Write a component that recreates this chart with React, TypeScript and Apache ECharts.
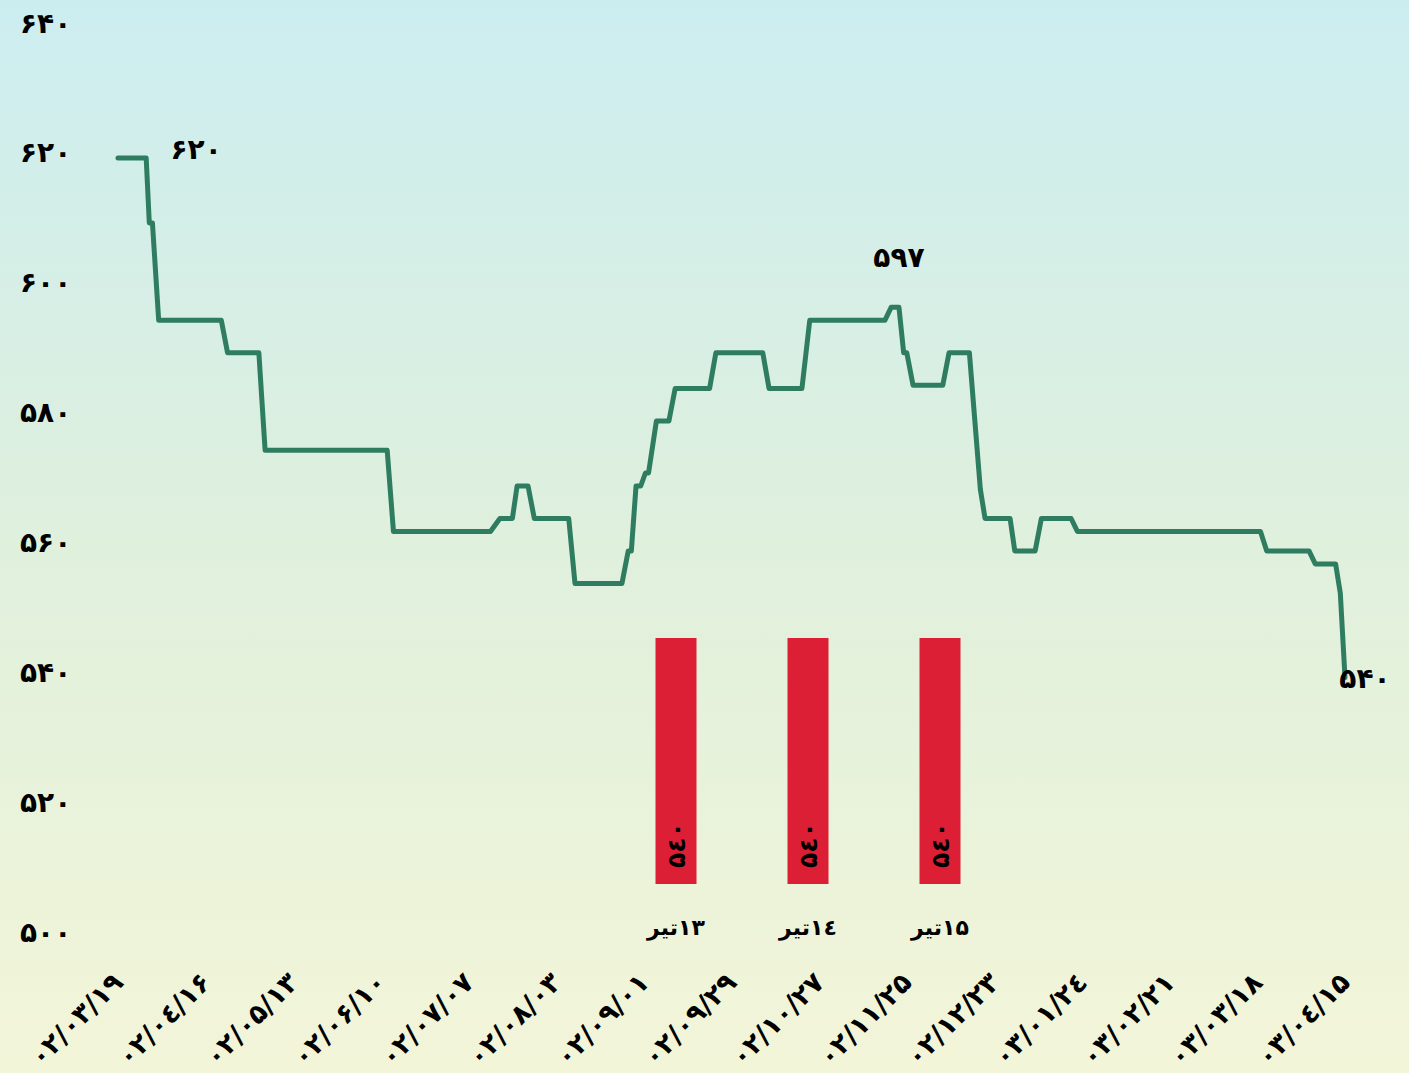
import React, { useEffect, useRef } from "react";
import * as echarts from "echarts";

// day offsets (from first tick) and prices of the line
const days = [0, 9, 10, 11, 13, 33, 35, 45, 47, 86, 88, 119, 122, 126, 127.5, 131, 133, 144, 146, 161, 163, 164, 165.5, 167, 168.5, 169.5, 172, 176, 178, 189, 191, 206, 208, 218.5, 221, 245, 247, 249.5, 251, 252, 254, 263.5, 265.5, 272, 274, 275.5, 277, 285, 286.5, 293, 295, 304.5, 306.5, 365, 367, 380.5, 382.5, 389, 390.5, 392];
const prices = [620, 620, 610, 610, 595, 595, 590, 590, 575, 575, 562.5, 562.5, 564.5, 564.5, 569.5, 569.5, 564.5, 564.5, 554.5, 554.5, 559.5, 559.5, 569.5, 569.5, 571.5, 571.5, 579.5, 579.5, 584.5, 584.5, 590, 590, 584.5, 584.5, 595, 595, 597, 597, 590, 590, 585, 585, 590, 590, 578, 569, 564.5, 564.5, 559.5, 559.5, 564.5, 564.5, 562.5, 562.5, 559.5, 559.5, 557.5, 557.5, 553, 540];

const xTickLabels = ["۰۲/۰۳/۱۹", "۰۲/۰٤/۱۶", "۰۲/۰۵/۱۳", "۰۲/۰۶/۱۰", "۰۲/۰۷/۰۷", "۰۲/۰۸/۰۳", "۰۲/۰۹/۰۱", "۰۲/۰۹/۲۹", "۰۲/۱۰/۲۷", "۰۲/۱۱/۲۵", "۰۲/۱۲/۲۳", "۰۳/۰۱/۲٤", "۰۳/۰۲/۲۱", "۰۳/۰۳/۱۸", "۰۳/۰٤/۱۵"];
const yTickLabels = ["۵۰۰", "۵۲۰", "۵۴۰", "۵۶۰", "۵۸۰", "۶۰۰", "۶۲۰", "۶۴۰"];

const barCategories = ["تیر\u200E۱۳", "تیر\u200E۱٤", "تیر\u200E۱۵"];
const barValues = [540, 540, 540];

// annotated points: [day, price, text]
const notes: [number, number, string][] = [
  [9, 620, "۶۲۰"],
  [249.5, 597, "۵۹۷"],
  [392, 540, "۵۴۰"],
];
const noteOffsets: [number, number][] = [[50, -8], [0, -50], [20, 1]];

const FONT = "DejaVu Sans";

function toFa(n: number, alt = false) {
  const d = alt ? "۰۱۲۳٤۵۶۷۸۹" : "۰۱۲۳۴۵۶۷۸۹";
  return String(n).replace(/\d/g, (c) => d[Number(c)]);
}

export default function App() {
  const ref = useRef<HTMLDivElement>(null);
  useEffect(() => {
    if (!ref.current) return;
    const chart = echarts.init(ref.current, undefined, { renderer: "svg" });
    const lineData = days.map((d, i) => [d, prices[i]]);
    chart.setOption({
      animation: false,
      backgroundColor: new echarts.graphic.LinearGradient(0, 0, 0, 1, [
        { offset: 0, color: "#ccedf0" },
        { offset: 0.5, color: "#dff0dd" },
        { offset: 1, color: "#f3f5d8" },
      ]),
      textStyle: { fontFamily: FONT },
      grid: [
        { left: 118, right: 64, top: 28, bottom: 135 },
        { left: 610, width: 396, top: 638, height: 246 },
      ],
      xAxis: [
        {
          type: "value",
          gridIndex: 0,
          min: 0,
          max: 392,
          interval: 28,
          axisLine: { show: false },
          axisTick: { show: false },
          splitLine: { show: false },
          axisLabel: {
            rotate: 45,
            margin: 40,
            fontSize: 27,
            fontWeight: "bold",
            color: "#000",
            fontFamily: FONT,
            formatter: (v: number) => xTickLabels[Math.round(v / 28)] ?? "",
          },
        },
        {
          type: "category",
          gridIndex: 1,
          data: barCategories,
          axisLine: { show: false },
          axisTick: { show: false },
          axisLabel: { margin: 32, fontSize: 22, fontWeight: "bold", color: "#000", fontFamily: FONT },
        },
      ],
      yAxis: [
        {
          type: "value",
          gridIndex: 0,
          min: 500,
          max: 640,
          interval: 20,
          axisLine: { show: false },
          axisTick: { show: false },
          splitLine: { show: false },
          axisLabel: {
            align: "left",
            margin: 98,
            fontSize: 28,
            fontWeight: "bold",
            color: "#000",
            fontFamily: FONT,
            formatter: (v: number) => "{a|" + (yTickLabels[Math.round((v - 500) / 20)] ?? "") + "}",
            rich: {
              a: { fontSize: 28, fontWeight: "bold", color: "#000", fontFamily: FONT, padding: [0, 0, 10, 0] },
            },
          },
        },
        {
          type: "value",
          gridIndex: 1,
          min: 0,
          max: 540,
          show: false,
        },
      ],
      series: [
        {
          type: "line",
          xAxisIndex: 0,
          yAxisIndex: 0,
          data: lineData,
          showSymbol: false,
          symbol: "none",
          lineStyle: { color: "#2f7d61", width: 5, cap: "round", join: "round" },
          markPoint: {
            symbol: "circle",
            symbolSize: 1,
            itemStyle: { color: "rgba(0,0,0,0)" },
            label: { fontSize: 28, fontWeight: "bold", color: "#000", fontFamily: FONT },
            data: notes.map((n, i) => ({
              coord: [n[0], n[1]],
              value: n[2],
              label: { show: true, position: "inside", offset: noteOffsets[i], formatter: n[2] },
            })),
          },
        },
        {
          type: "bar",
          xAxisIndex: 1,
          yAxisIndex: 1,
          data: barValues,
          barWidth: 41,
          itemStyle: { color: "#dc1f35" },
          label: {
            show: true,
            position: "insideBottom",
            rotate: 90,
            align: "left",
            verticalAlign: "middle",
            distance: 16,
            fontSize: 25,
            fontWeight: "bold",
            color: "#000",
            fontFamily: FONT,
            formatter: (p: any) => toFa(p.value, true),
          },
        },
      ],
    });
    return () => chart.dispose();
  }, []);
  return (
    <div
      ref={ref}
      style={{ position: "fixed", left: 0, top: 0, width: 1409, height: 1073 }}
    />
  );
}
